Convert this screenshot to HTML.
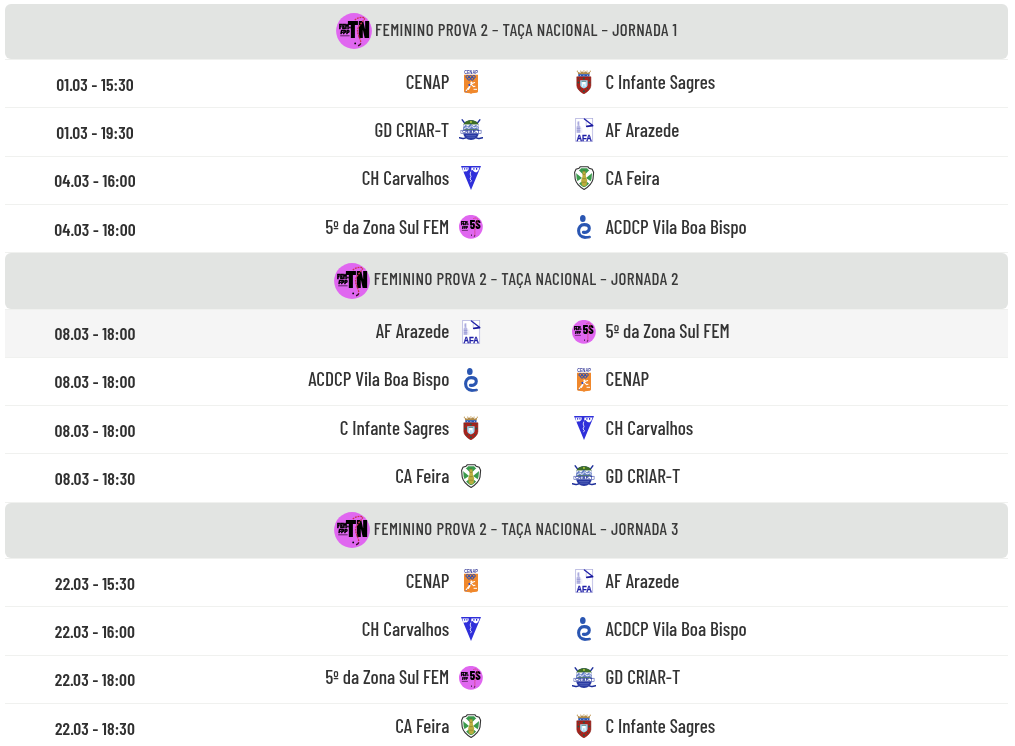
<!DOCTYPE html>
<html lang="pt"><head><meta charset="utf-8"><title>Taça Nacional Feminino</title>
<style>
html,body{margin:0;padding:0;background:#fff;width:1015px;height:746px;overflow:hidden;}
body{position:relative;font-family:'Barlow Condensed', 'Liberation Sans', sans-serif;color:#333333;}
.hd{position:absolute;left:5px;width:1003px;background:#e2e4e2;border-radius:6px;display:flex;align-items:center;justify-content:center;}
.hd svg{display:block;flex:none;margin-top:-1px;}
.hd span{font-size:17px;font-weight:500;letter-spacing:0.39px;color:#3a3a3a;white-space:nowrap;margin-left:3.5px;position:relative;top:-3px;}
.ln{position:absolute;left:5px;width:1003px;height:1px;background:#f0f1ef;}
.hv{position:absolute;left:5px;width:1003px;background:#f5f5f5;}
.t{position:absolute;white-space:nowrap;line-height:30px;height:30px;}
.dt{font-size:17.6px;font-weight:600;letter-spacing:0.12px;color:#303030;width:180px;text-align:center;}
.nm{font-size:19.2px;font-weight:500;letter-spacing:0px;}
.hm{text-align:right;width:300px;}
.lg{position:absolute;width:24px;height:24px;}
.lg svg{display:block;}
</style></head><body><div id="wrap" style="position:absolute;left:0;top:0;width:1015px;height:746px;will-change:transform">
<div class="hd" style="top:4px;height:55px"><svg width="36" height="36" viewBox="0 0 36 36">
<circle cx="18" cy="18" r="17.9" fill="#e067f0"/>
<text x="3" y="15.6" font-family="Barlow Condensed, Liberation Sans, sans-serif" font-weight="900" font-size="8.2" fill="#000" stroke="#000" stroke-width=".4" textLength="10" lengthAdjust="spacingAndGlyphs">FEM</text>
<rect x="13.2" y="13.7" width="1.5" height="1.7" fill="#000"/>
<text x="4.4" y="20.8" font-family="Barlow Condensed, Liberation Sans, sans-serif" font-weight="900" font-style="italic" font-size="5" fill="#000" stroke="#000" stroke-width=".3" textLength="8.8" lengthAdjust="spacingAndGlyphs">FPP</text>
<rect x="4.2" y="22.3" width="9.4" height="1" fill="#2a0a30" opacity=".7"/>
<text x="11.4" y="25.1" font-family="Barlow Condensed, Liberation Sans, sans-serif" font-weight="900" font-size="23.7" fill="#000" textLength="22.3" lengthAdjust="spacingAndGlyphs">TN</text>
<g stroke="#cc3450" stroke-width="1.3" fill="none" stroke-dasharray="1.8 .9">
<path d="M18.8 7C21 5 25 3.6 28.2 4.6"/>
<path d="M28.8 5.4C27.4 8 23.4 12 21.8 15.6 21 19 22.4 22 23.6 25 24.6 27.5 25 29.5 24.4 30.8"/>
</g>
<path d="M24.8 30.4Q24 32.4 22 32.7" stroke="#3a0a28" stroke-width="1.4" fill="none"/>
<circle cx="19.2" cy="30.4" r=".9" fill="#000"/>
</svg><span>FEMININO PROVA 2 – TAÇA NACIONAL – JORNADA 1</span></div>
<div class="ln" style="top:59px"></div>
<div class="ln" style="top:107px"></div>
<div class="ln" style="top:156px"></div>
<div class="ln" style="top:204px"></div>
<div class="ln" style="top:252px"></div>
<div class="t dt" style="left:5.0px;top:68.96px">01.03 - 15:30</div>
<div class="t nm hm" style="left:149.3px;top:67.32px">CENAP</div>
<div class="t nm" style="left:605.6px;top:67.32px">C Infante Sagres</div>
<div class="lg" style="left:459px;top:70px"><svg width="24" height="24" viewBox="0 0 24 24">
<text x="12" y="4.2" text-anchor="middle" font-family="Liberation Sans, sans-serif" font-weight="bold" font-size="4.6" fill="#3b3f9a" textLength="13.6" lengthAdjust="spacingAndGlyphs">CENAP</text>
<path d="M5 4.7h14v16.8q0 1.1-1.2 1.3l-4.8.5-1 .8-1-.8-4.8-.5Q5 22.6 5 21.5z" fill="#f0882c"/>
<g fill="none" stroke="#3050b0" stroke-width="1">
<circle cx="8.4" cy="6.9" r="1.45"/><circle cx="11.6" cy="6.9" r="1.45"/><circle cx="14.8" cy="6.9" r="1.45"/>
<circle cx="10" cy="8.7" r="1.45"/><circle cx="13.2" cy="8.7" r="1.45"/></g>
<path d="M7.2 20.8l2.6-3.6 2.2-3.2 3.6-1.4M12.2 14.4l2.4 2.2 1.4-.4M11 16.8l-1.6 2.6" stroke="#fff" stroke-width="1.1" fill="none" stroke-linecap="round"/>
<circle cx="12.4" cy="12.4" r="1" fill="#fff"/>
<path d="M9.2 14.6l1.6-.8.8 1.6-1.6.8z" fill="#2a4acc"/>
<path d="M14.6 19.3h3.4" stroke="#fff" stroke-width="1"/>
<path d="M6.4 21.6h1.4" stroke="#5a6ab0" stroke-width=".8"/>
</svg></div>
<div class="lg" style="left:572px;top:70px"><svg width="24" height="24" viewBox="0 0 24 24">
<g fill="#c8a466"><circle cx="5.4" cy="1.3" r=".7"/><circle cx="8.6" cy="1.1" r=".7"/><circle cx="11.9" cy="1" r=".7"/><circle cx="15.1" cy="1.1" r=".7"/><circle cx="18.3" cy="1.3" r=".7"/></g>
<path d="M6.2 4.4l-.6-2.6 2.6 1 1.8-1.6 1.9 1.2 1.9-1.2 1.8 1.6 2.6-1-.6 2.6z" fill="#b08a48"/>
<rect x="6.3" y="4.2" width="11.2" height="2.4" fill="#2456b8"/>
<g fill="#d8e4f4"><rect x="8" y="5" width=".8" height=".8"/><rect x="11.5" y="5" width=".8" height=".8"/><rect x="15" y="5" width=".8" height=".8"/></g>
<path d="M4.8 6.8h14.1v8.6q0 4.4-7.05 8.6Q4.8 19.8 4.8 15.4z" fill="#a8221c" stroke="#7a1812" stroke-width=".5"/>
<path d="M8.2 10.2h7.4v4.6q0 2.6-3.7 3.8-3.7-1.2-3.7-3.8z" fill="#a4d8f0"/>
<path d="M10.2 11.8h3.4v4.6h-1v-2.2h-1.4v2.2h-1z" fill="#fff"/>
<path d="M9.6 11.4h4.6" stroke="#2a6a5a" stroke-width=".6"/>
<g fill="#1f5a4c"><circle cx="11.9" cy="8.6" r="1"/><circle cx="6.4" cy="12.6" r="1"/><circle cx="17.4" cy="12.6" r="1"/><circle cx="11.9" cy="21.2" r="1"/><circle cx="8.2" cy="18.8" r=".7"/><circle cx="15.6" cy="18.8" r=".7"/><circle cx="6.6" cy="8.8" r=".6"/><circle cx="17.2" cy="8.8" r=".6"/></g>
</svg></div>
<div class="t dt" style="left:5.0px;top:116.96px">01.03 - 19:30</div>
<div class="t nm hm" style="left:149.3px;top:115.32px">GD CRIAR-T</div>
<div class="t nm" style="left:605.6px;top:115.32px">AF Arazede</div>
<div class="lg" style="left:459px;top:118px"><svg width="24" height="24" viewBox="0 0 24 24">
<g stroke="#1e2f9a" stroke-width="1.5" fill="none" stroke-linecap="round">
<path d="M3.2 1.9L15.6 18.4q1.8 2.4 4.6 2l3.4-.7"/><path d="M20.8 1.9L8.4 18.4q-1.8 2.4-4.6 2l-3.4-.7"/></g>
<path d="M4.2 8.6C4.2 4.4 7.8 2.2 12 2.2S19.8 4.4 19.8 8.6V14.2C19.8 19 16 21.9 12 21.9S4.2 19 4.2 14.2Z" fill="#2a3aa2"/>
<path d="M4.3 7.2C5 3.8 8.2 2.2 12 2.2S19 3.8 19.7 7.2Z" fill="#3d6e28"/>
<rect x="4.3" y="6.4" width="15.4" height="5.9" fill="#eef1fa"/>
<path d="M4.3 12.3V9.4l2.4-2.6 2.2 2 2.8-3.2 3 2.8 2.2-1.6 2.8 2.6v2.9z" fill="#3a5ab4" opacity=".75"/>
<path d="M5 11.2l2.6-2 2.4 1.2 2.6-2.4 2.4 2 2.4-1 2 1.6" stroke="#fff" stroke-width=".9" fill="none"/>
<path d="M5.4 11.8h13.2" stroke="#4a7a30" stroke-width=".8"/>
<rect x="11.1" y="3.1" width="1.7" height="1.7" fill="#b8d040"/>
<rect x="1.9" y="12.2" width="20.2" height="3.3" fill="#fff" stroke="#2a3aa2" stroke-width=".5"/>
<text x="12" y="15.1" text-anchor="middle" font-family="Liberation Sans, sans-serif" font-weight="bold" font-size="3.6" fill="#1e2f9a" textLength="17.4" lengthAdjust="spacingAndGlyphs">CRIAR-T</text>
<path d="M7 17.6h10M8.2 19.2h7.6" stroke="#6a7ac8" stroke-width=".6"/>
</svg></div>
<div class="lg" style="left:572px;top:118px"><svg width="24" height="24" viewBox="0 0 24 24">
<rect x="3.7" y="0.5" width="17" height="23" fill="#fff" stroke="#a8a8da" stroke-width=".7"/>
<path d="M4.6 15V8.4l1-1V3.2h1.8v4.2l1 1V15z" fill="#babae4"/>
<path d="M4.8 10.4h3.6M4.8 12.8h3.6" stroke="#9494d2" stroke-width=".8"/>
<path d="M6.1 4.2v2.4" stroke="#8c8cd0" stroke-width=".6"/>
<path d="M14.2 1.4V8.2" stroke="#b8b8e4" stroke-width=".7"/>
<path d="M12.4 .9L20.4 7.3" stroke="#2222a8" stroke-width="1.3" stroke-linecap="round"/>
<path d="M14.8 8.3L20.6 7.6" stroke="#1a1a9e" stroke-width="1.7" stroke-linecap="round"/>
<path d="M9.8 9.6V15M20.3 9.4V16" stroke="#d0d0ee" stroke-width=".5"/>
<text x="12.2" y="22.6" text-anchor="middle" font-family="Liberation Sans, sans-serif" font-weight="bold" font-size="8.6" fill="#1f1fa6" stroke="#1f1fa6" stroke-width=".3" textLength="15.4" lengthAdjust="spacingAndGlyphs">AFA</text>
</svg></div>
<div class="t dt" style="left:5.0px;top:164.96px">04.03 - 16:00</div>
<div class="t nm hm" style="left:149.3px;top:163.32px">CH Carvalhos</div>
<div class="t nm" style="left:605.6px;top:163.32px">CA Feira</div>
<div class="lg" style="left:459px;top:166px"><svg width="24" height="24" viewBox="0 0 24 24">
<path d="M2 0h20L12 24z" fill="#2f2fda"/>
<path d="M3.4 1.4h6.4l-.4 2.6-2 1.6-1.6-.4-1.2 1.4z" fill="#fff"/>
<path d="M12.4 1.4h8.2l-1.4 3.6-2 1.4-2-.6-1.6-1.8-1.4.6z" fill="#fff"/>
<g fill="#2f2fda"><rect x="5" y="2.2" width="1.2" height="1.4"/><rect x="7.4" y="2" width="1" height="1.6"/><rect x="14.2" y="2.2" width="1.4" height="1.4"/><rect x="17" y="2" width="1.2" height="1.8"/></g>
<path d="M11.8 5.6l-.6 2.4.8 2.6-1 2.4 1.4 1.4-.8 1.8" stroke="#fff" stroke-width=".8" fill="none"/>
</svg></div>
<div class="lg" style="left:572px;top:166px"><svg width="24" height="24" viewBox="0 0 24 24">
<defs><clipPath id="clip3a"><path d="M8.2 .8h7.8l1.2 1.6 3 .9 1.4 3-.6 6.8q-1.4 6-8.9 10.3Q4.6 19.1 3.2 13.1l-.6-6.8 1.4-3 3-.9z"/></clipPath></defs>
<path d="M8.2 .8h7.8l1.2 1.6 3 .9 1.4 3-.6 6.8q-1.4 6-8.9 10.3Q4.6 19.1 3.2 13.1l-.6-6.8 1.4-3 3-.9z" fill="#fff"/>
<g clip-path="url(#clip3a)" fill="#3a9a4c">
<path d="M4.4 1.8h15.2L12 9.6z"/>
<path d="M2 5.6L10 12 2 17.6z"/>
<path d="M22 5.6L14 12l8 5.6z"/>
<path d="M12.1 13.4l8 6.6-8 5-8-5z"/>
</g>
<path d="M8.2 .8h7.8l1.2 1.6 3 .9 1.4 3-.6 6.8q-1.4 6-8.9 10.3Q4.6 19.1 3.2 13.1l-.6-6.8 1.4-3 3-.9z" fill="none" stroke="#fff" stroke-width="3"/>
<path d="M8.2 .8h7.8l1.2 1.6 3 .9 1.4 3-.6 6.8q-1.4 6-8.9 10.3Q4.6 19.1 3.2 13.1l-.6-6.8 1.4-3 3-.9z" fill="none" stroke="#333" stroke-width="1.1"/>
<path d="M10.6 5.2h2.8l.6 5.6 1.2 3.4-.6 5-2.4 1.4-2.4-1.4-.6-5 1.2-3.4z" fill="#bcae3e"/>
<path d="M10.8 8.4h2.6M10.4 12.6h3.4M10 16.2h4.2" stroke="#7a6a28" stroke-width=".5"/>
<path d="M11.4 5.6l.6-1.2.6 1.2" stroke="#6a5a20" stroke-width=".5" fill="none"/>
</svg></div>
<div class="t dt" style="left:5.0px;top:213.96px">04.03 - 18:00</div>
<div class="t nm hm" style="left:149.3px;top:212.32px">5º da Zona Sul FEM</div>
<div class="t nm" style="left:605.6px;top:212.32px">ACDCP Vila Boa Bispo</div>
<div class="lg" style="left:459px;top:215px"><svg width="24" height="24" viewBox="0 0 24 24">
<circle cx="11.9" cy="11.8" r="11.9" fill="#e067f0"/>

<text x="1.9" y="9.8" font-family="Barlow Condensed, Liberation Sans, sans-serif" font-weight="900" font-size="5.4" fill="#000" stroke="#000" stroke-width=".25" textLength="6.6" lengthAdjust="spacingAndGlyphs">FEM</text>
<rect x="8.6" y="8.6" width="1" height="1.1" fill="#000"/>
<text x="2.9" y="13.6" font-family="Barlow Condensed, Liberation Sans, sans-serif" font-weight="900" font-style="italic" font-size="3.4" fill="#000" stroke="#000" stroke-width=".2" textLength="5.9" lengthAdjust="spacingAndGlyphs">FPP</text>
<rect x="2.9" y="14.9" width="6" height=".8" fill="#3a1040" opacity=".8"/>
<text x="10.8" y="13.9" font-family="Barlow Condensed, Liberation Sans, sans-serif" font-weight="800" font-size="13" fill="#000" textLength="10.9" lengthAdjust="spacingAndGlyphs">5S</text>
<path d="M14.4 3.6q2.4-1.2 4 .2.6 1.4-.6 4.2l-1.6 4.2-.4 4q.4 3-.6 5" stroke="#cc3450" stroke-width=".8" fill="none" stroke-dasharray="1.2 .6"/>
<circle cx="12.5" cy="20.1" r=".55" fill="#000"/>
<path d="M15.9 20.4q-.2 1-1 1.2" stroke="#1a0820" stroke-width=".9" fill="none"/>
</svg></div>
<div class="lg" style="left:572px;top:215px"><svg width="24" height="24" viewBox="0 0 24 24">
<ellipse cx="10.8" cy="3.5" rx="2.8" ry="3.5" fill="#2a56b2"/>
<path d="M11.4 17.2C14.2 17.8 17.4 16.4 17.3 13.2 17.2 10.6 14.8 9.6 12.2 9.6 8.6 9.6 6.6 12.4 6.6 15.8 6.6 19.6 9.4 22.2 12.8 22.2" stroke="#2a56b2" stroke-width="3.1" fill="none" stroke-linecap="round"/>
<path d="M12.4 22.3C14.4 22.5 16 22.4 17.6 22" stroke="#2a56b2" stroke-width="2.6" fill="none" stroke-linecap="round"/>
<path d="M16.8 23.2l1.2-.3" stroke="#f0a060" stroke-width=".8" opacity=".6"/>
</svg></div>
<div class="hd" style="top:253px;height:56px"><svg width="36" height="36" viewBox="0 0 36 36">
<circle cx="18" cy="18" r="17.9" fill="#e067f0"/>
<text x="3" y="15.6" font-family="Barlow Condensed, Liberation Sans, sans-serif" font-weight="900" font-size="8.2" fill="#000" stroke="#000" stroke-width=".4" textLength="10" lengthAdjust="spacingAndGlyphs">FEM</text>
<rect x="13.2" y="13.7" width="1.5" height="1.7" fill="#000"/>
<text x="4.4" y="20.8" font-family="Barlow Condensed, Liberation Sans, sans-serif" font-weight="900" font-style="italic" font-size="5" fill="#000" stroke="#000" stroke-width=".3" textLength="8.8" lengthAdjust="spacingAndGlyphs">FPP</text>
<rect x="4.2" y="22.3" width="9.4" height="1" fill="#2a0a30" opacity=".7"/>
<text x="11.4" y="25.1" font-family="Barlow Condensed, Liberation Sans, sans-serif" font-weight="900" font-size="23.7" fill="#000" textLength="22.3" lengthAdjust="spacingAndGlyphs">TN</text>
<g stroke="#cc3450" stroke-width="1.3" fill="none" stroke-dasharray="1.8 .9">
<path d="M18.8 7C21 5 25 3.6 28.2 4.6"/>
<path d="M28.8 5.4C27.4 8 23.4 12 21.8 15.6 21 19 22.4 22 23.6 25 24.6 27.5 25 29.5 24.4 30.8"/>
</g>
<path d="M24.8 30.4Q24 32.4 22 32.7" stroke="#3a0a28" stroke-width="1.4" fill="none"/>
<circle cx="19.2" cy="30.4" r=".9" fill="#000"/>
</svg><span>FEMININO PROVA 2 – TAÇA NACIONAL – JORNADA 2</span></div>
<div class="ln" style="top:309px"></div>
<div class="ln" style="top:357px"></div>
<div class="ln" style="top:405px"></div>
<div class="ln" style="top:453px"></div>
<div class="ln" style="top:502px"></div>
<div class="hv" style="top:310px;height:47px"></div>
<div class="t dt" style="left:5.0px;top:317.96px">08.03 - 18:00</div>
<div class="t nm hm" style="left:149.3px;top:316.32px">AF Arazede</div>
<div class="t nm" style="left:605.6px;top:316.32px">5º da Zona Sul FEM</div>
<div class="lg" style="left:459px;top:320px"><svg width="24" height="24" viewBox="0 0 24 24">
<rect x="3.7" y="0.5" width="17" height="23" fill="#fff" stroke="#a8a8da" stroke-width=".7"/>
<path d="M4.6 15V8.4l1-1V3.2h1.8v4.2l1 1V15z" fill="#babae4"/>
<path d="M4.8 10.4h3.6M4.8 12.8h3.6" stroke="#9494d2" stroke-width=".8"/>
<path d="M6.1 4.2v2.4" stroke="#8c8cd0" stroke-width=".6"/>
<path d="M14.2 1.4V8.2" stroke="#b8b8e4" stroke-width=".7"/>
<path d="M12.4 .9L20.4 7.3" stroke="#2222a8" stroke-width="1.3" stroke-linecap="round"/>
<path d="M14.8 8.3L20.6 7.6" stroke="#1a1a9e" stroke-width="1.7" stroke-linecap="round"/>
<path d="M9.8 9.6V15M20.3 9.4V16" stroke="#d0d0ee" stroke-width=".5"/>
<text x="12.2" y="22.6" text-anchor="middle" font-family="Liberation Sans, sans-serif" font-weight="bold" font-size="8.6" fill="#1f1fa6" stroke="#1f1fa6" stroke-width=".3" textLength="15.4" lengthAdjust="spacingAndGlyphs">AFA</text>
</svg></div>
<div class="lg" style="left:572px;top:320px"><svg width="24" height="24" viewBox="0 0 24 24">
<circle cx="11.9" cy="11.8" r="11.9" fill="#e067f0"/>

<text x="1.9" y="9.8" font-family="Barlow Condensed, Liberation Sans, sans-serif" font-weight="900" font-size="5.4" fill="#000" stroke="#000" stroke-width=".25" textLength="6.6" lengthAdjust="spacingAndGlyphs">FEM</text>
<rect x="8.6" y="8.6" width="1" height="1.1" fill="#000"/>
<text x="2.9" y="13.6" font-family="Barlow Condensed, Liberation Sans, sans-serif" font-weight="900" font-style="italic" font-size="3.4" fill="#000" stroke="#000" stroke-width=".2" textLength="5.9" lengthAdjust="spacingAndGlyphs">FPP</text>
<rect x="2.9" y="14.9" width="6" height=".8" fill="#3a1040" opacity=".8"/>
<text x="10.8" y="13.9" font-family="Barlow Condensed, Liberation Sans, sans-serif" font-weight="800" font-size="13" fill="#000" textLength="10.9" lengthAdjust="spacingAndGlyphs">5S</text>
<path d="M14.4 3.6q2.4-1.2 4 .2.6 1.4-.6 4.2l-1.6 4.2-.4 4q.4 3-.6 5" stroke="#cc3450" stroke-width=".8" fill="none" stroke-dasharray="1.2 .6"/>
<circle cx="12.5" cy="20.1" r=".55" fill="#000"/>
<path d="M15.9 20.4q-.2 1-1 1.2" stroke="#1a0820" stroke-width=".9" fill="none"/>
</svg></div>
<div class="t dt" style="left:5.0px;top:365.96px">08.03 - 18:00</div>
<div class="t nm hm" style="left:149.3px;top:364.32px">ACDCP Vila Boa Bispo</div>
<div class="t nm" style="left:605.6px;top:364.32px">CENAP</div>
<div class="lg" style="left:459px;top:368px"><svg width="24" height="24" viewBox="0 0 24 24">
<ellipse cx="10.8" cy="3.5" rx="2.8" ry="3.5" fill="#2a56b2"/>
<path d="M11.4 17.2C14.2 17.8 17.4 16.4 17.3 13.2 17.2 10.6 14.8 9.6 12.2 9.6 8.6 9.6 6.6 12.4 6.6 15.8 6.6 19.6 9.4 22.2 12.8 22.2" stroke="#2a56b2" stroke-width="3.1" fill="none" stroke-linecap="round"/>
<path d="M12.4 22.3C14.4 22.5 16 22.4 17.6 22" stroke="#2a56b2" stroke-width="2.6" fill="none" stroke-linecap="round"/>
<path d="M16.8 23.2l1.2-.3" stroke="#f0a060" stroke-width=".8" opacity=".6"/>
</svg></div>
<div class="lg" style="left:572px;top:368px"><svg width="24" height="24" viewBox="0 0 24 24">
<text x="12" y="4.2" text-anchor="middle" font-family="Liberation Sans, sans-serif" font-weight="bold" font-size="4.6" fill="#3b3f9a" textLength="13.6" lengthAdjust="spacingAndGlyphs">CENAP</text>
<path d="M5 4.7h14v16.8q0 1.1-1.2 1.3l-4.8.5-1 .8-1-.8-4.8-.5Q5 22.6 5 21.5z" fill="#f0882c"/>
<g fill="none" stroke="#3050b0" stroke-width="1">
<circle cx="8.4" cy="6.9" r="1.45"/><circle cx="11.6" cy="6.9" r="1.45"/><circle cx="14.8" cy="6.9" r="1.45"/>
<circle cx="10" cy="8.7" r="1.45"/><circle cx="13.2" cy="8.7" r="1.45"/></g>
<path d="M7.2 20.8l2.6-3.6 2.2-3.2 3.6-1.4M12.2 14.4l2.4 2.2 1.4-.4M11 16.8l-1.6 2.6" stroke="#fff" stroke-width="1.1" fill="none" stroke-linecap="round"/>
<circle cx="12.4" cy="12.4" r="1" fill="#fff"/>
<path d="M9.2 14.6l1.6-.8.8 1.6-1.6.8z" fill="#2a4acc"/>
<path d="M14.6 19.3h3.4" stroke="#fff" stroke-width="1"/>
<path d="M6.4 21.6h1.4" stroke="#5a6ab0" stroke-width=".8"/>
</svg></div>
<div class="t dt" style="left:5.0px;top:414.96px">08.03 - 18:00</div>
<div class="t nm hm" style="left:149.3px;top:413.32px">C Infante Sagres</div>
<div class="t nm" style="left:605.6px;top:413.32px">CH Carvalhos</div>
<div class="lg" style="left:459px;top:416px"><svg width="24" height="24" viewBox="0 0 24 24">
<g fill="#c8a466"><circle cx="5.4" cy="1.3" r=".7"/><circle cx="8.6" cy="1.1" r=".7"/><circle cx="11.9" cy="1" r=".7"/><circle cx="15.1" cy="1.1" r=".7"/><circle cx="18.3" cy="1.3" r=".7"/></g>
<path d="M6.2 4.4l-.6-2.6 2.6 1 1.8-1.6 1.9 1.2 1.9-1.2 1.8 1.6 2.6-1-.6 2.6z" fill="#b08a48"/>
<rect x="6.3" y="4.2" width="11.2" height="2.4" fill="#2456b8"/>
<g fill="#d8e4f4"><rect x="8" y="5" width=".8" height=".8"/><rect x="11.5" y="5" width=".8" height=".8"/><rect x="15" y="5" width=".8" height=".8"/></g>
<path d="M4.8 6.8h14.1v8.6q0 4.4-7.05 8.6Q4.8 19.8 4.8 15.4z" fill="#a8221c" stroke="#7a1812" stroke-width=".5"/>
<path d="M8.2 10.2h7.4v4.6q0 2.6-3.7 3.8-3.7-1.2-3.7-3.8z" fill="#a4d8f0"/>
<path d="M10.2 11.8h3.4v4.6h-1v-2.2h-1.4v2.2h-1z" fill="#fff"/>
<path d="M9.6 11.4h4.6" stroke="#2a6a5a" stroke-width=".6"/>
<g fill="#1f5a4c"><circle cx="11.9" cy="8.6" r="1"/><circle cx="6.4" cy="12.6" r="1"/><circle cx="17.4" cy="12.6" r="1"/><circle cx="11.9" cy="21.2" r="1"/><circle cx="8.2" cy="18.8" r=".7"/><circle cx="15.6" cy="18.8" r=".7"/><circle cx="6.6" cy="8.8" r=".6"/><circle cx="17.2" cy="8.8" r=".6"/></g>
</svg></div>
<div class="lg" style="left:572px;top:416px"><svg width="24" height="24" viewBox="0 0 24 24">
<path d="M2 0h20L12 24z" fill="#2f2fda"/>
<path d="M3.4 1.4h6.4l-.4 2.6-2 1.6-1.6-.4-1.2 1.4z" fill="#fff"/>
<path d="M12.4 1.4h8.2l-1.4 3.6-2 1.4-2-.6-1.6-1.8-1.4.6z" fill="#fff"/>
<g fill="#2f2fda"><rect x="5" y="2.2" width="1.2" height="1.4"/><rect x="7.4" y="2" width="1" height="1.6"/><rect x="14.2" y="2.2" width="1.4" height="1.4"/><rect x="17" y="2" width="1.2" height="1.8"/></g>
<path d="M11.8 5.6l-.6 2.4.8 2.6-1 2.4 1.4 1.4-.8 1.8" stroke="#fff" stroke-width=".8" fill="none"/>
</svg></div>
<div class="t dt" style="left:5.0px;top:462.96px">08.03 - 18:30</div>
<div class="t nm hm" style="left:149.3px;top:461.32px">CA Feira</div>
<div class="t nm" style="left:605.6px;top:461.32px">GD CRIAR-T</div>
<div class="lg" style="left:459px;top:464px"><svg width="24" height="24" viewBox="0 0 24 24">
<defs><clipPath id="clip8h"><path d="M8.2 .8h7.8l1.2 1.6 3 .9 1.4 3-.6 6.8q-1.4 6-8.9 10.3Q4.6 19.1 3.2 13.1l-.6-6.8 1.4-3 3-.9z"/></clipPath></defs>
<path d="M8.2 .8h7.8l1.2 1.6 3 .9 1.4 3-.6 6.8q-1.4 6-8.9 10.3Q4.6 19.1 3.2 13.1l-.6-6.8 1.4-3 3-.9z" fill="#fff"/>
<g clip-path="url(#clip8h)" fill="#3a9a4c">
<path d="M4.4 1.8h15.2L12 9.6z"/>
<path d="M2 5.6L10 12 2 17.6z"/>
<path d="M22 5.6L14 12l8 5.6z"/>
<path d="M12.1 13.4l8 6.6-8 5-8-5z"/>
</g>
<path d="M8.2 .8h7.8l1.2 1.6 3 .9 1.4 3-.6 6.8q-1.4 6-8.9 10.3Q4.6 19.1 3.2 13.1l-.6-6.8 1.4-3 3-.9z" fill="none" stroke="#fff" stroke-width="3"/>
<path d="M8.2 .8h7.8l1.2 1.6 3 .9 1.4 3-.6 6.8q-1.4 6-8.9 10.3Q4.6 19.1 3.2 13.1l-.6-6.8 1.4-3 3-.9z" fill="none" stroke="#333" stroke-width="1.1"/>
<path d="M10.6 5.2h2.8l.6 5.6 1.2 3.4-.6 5-2.4 1.4-2.4-1.4-.6-5 1.2-3.4z" fill="#bcae3e"/>
<path d="M10.8 8.4h2.6M10.4 12.6h3.4M10 16.2h4.2" stroke="#7a6a28" stroke-width=".5"/>
<path d="M11.4 5.6l.6-1.2.6 1.2" stroke="#6a5a20" stroke-width=".5" fill="none"/>
</svg></div>
<div class="lg" style="left:572px;top:464px"><svg width="24" height="24" viewBox="0 0 24 24">
<g stroke="#1e2f9a" stroke-width="1.5" fill="none" stroke-linecap="round">
<path d="M3.2 1.9L15.6 18.4q1.8 2.4 4.6 2l3.4-.7"/><path d="M20.8 1.9L8.4 18.4q-1.8 2.4-4.6 2l-3.4-.7"/></g>
<path d="M4.2 8.6C4.2 4.4 7.8 2.2 12 2.2S19.8 4.4 19.8 8.6V14.2C19.8 19 16 21.9 12 21.9S4.2 19 4.2 14.2Z" fill="#2a3aa2"/>
<path d="M4.3 7.2C5 3.8 8.2 2.2 12 2.2S19 3.8 19.7 7.2Z" fill="#3d6e28"/>
<rect x="4.3" y="6.4" width="15.4" height="5.9" fill="#eef1fa"/>
<path d="M4.3 12.3V9.4l2.4-2.6 2.2 2 2.8-3.2 3 2.8 2.2-1.6 2.8 2.6v2.9z" fill="#3a5ab4" opacity=".75"/>
<path d="M5 11.2l2.6-2 2.4 1.2 2.6-2.4 2.4 2 2.4-1 2 1.6" stroke="#fff" stroke-width=".9" fill="none"/>
<path d="M5.4 11.8h13.2" stroke="#4a7a30" stroke-width=".8"/>
<rect x="11.1" y="3.1" width="1.7" height="1.7" fill="#b8d040"/>
<rect x="1.9" y="12.2" width="20.2" height="3.3" fill="#fff" stroke="#2a3aa2" stroke-width=".5"/>
<text x="12" y="15.1" text-anchor="middle" font-family="Liberation Sans, sans-serif" font-weight="bold" font-size="3.6" fill="#1e2f9a" textLength="17.4" lengthAdjust="spacingAndGlyphs">CRIAR-T</text>
<path d="M7 17.6h10M8.2 19.2h7.6" stroke="#6a7ac8" stroke-width=".6"/>
</svg></div>
<div class="hd" style="top:503px;height:55px"><svg width="36" height="36" viewBox="0 0 36 36">
<circle cx="18" cy="18" r="17.9" fill="#e067f0"/>
<text x="3" y="15.6" font-family="Barlow Condensed, Liberation Sans, sans-serif" font-weight="900" font-size="8.2" fill="#000" stroke="#000" stroke-width=".4" textLength="10" lengthAdjust="spacingAndGlyphs">FEM</text>
<rect x="13.2" y="13.7" width="1.5" height="1.7" fill="#000"/>
<text x="4.4" y="20.8" font-family="Barlow Condensed, Liberation Sans, sans-serif" font-weight="900" font-style="italic" font-size="5" fill="#000" stroke="#000" stroke-width=".3" textLength="8.8" lengthAdjust="spacingAndGlyphs">FPP</text>
<rect x="4.2" y="22.3" width="9.4" height="1" fill="#2a0a30" opacity=".7"/>
<text x="11.4" y="25.1" font-family="Barlow Condensed, Liberation Sans, sans-serif" font-weight="900" font-size="23.7" fill="#000" textLength="22.3" lengthAdjust="spacingAndGlyphs">TN</text>
<g stroke="#cc3450" stroke-width="1.3" fill="none" stroke-dasharray="1.8 .9">
<path d="M18.8 7C21 5 25 3.6 28.2 4.6"/>
<path d="M28.8 5.4C27.4 8 23.4 12 21.8 15.6 21 19 22.4 22 23.6 25 24.6 27.5 25 29.5 24.4 30.8"/>
</g>
<path d="M24.8 30.4Q24 32.4 22 32.7" stroke="#3a0a28" stroke-width="1.4" fill="none"/>
<circle cx="19.2" cy="30.4" r=".9" fill="#000"/>
</svg><span>FEMININO PROVA 2 – TAÇA NACIONAL – JORNADA 3</span></div>
<div class="ln" style="top:558px"></div>
<div class="ln" style="top:606px"></div>
<div class="ln" style="top:655px"></div>
<div class="ln" style="top:703px"></div>
<div class="t dt" style="left:5.0px;top:567.96px">22.03 - 15:30</div>
<div class="t nm hm" style="left:149.3px;top:566.32px">CENAP</div>
<div class="t nm" style="left:605.6px;top:566.32px">AF Arazede</div>
<div class="lg" style="left:459px;top:569px"><svg width="24" height="24" viewBox="0 0 24 24">
<text x="12" y="4.2" text-anchor="middle" font-family="Liberation Sans, sans-serif" font-weight="bold" font-size="4.6" fill="#3b3f9a" textLength="13.6" lengthAdjust="spacingAndGlyphs">CENAP</text>
<path d="M5 4.7h14v16.8q0 1.1-1.2 1.3l-4.8.5-1 .8-1-.8-4.8-.5Q5 22.6 5 21.5z" fill="#f0882c"/>
<g fill="none" stroke="#3050b0" stroke-width="1">
<circle cx="8.4" cy="6.9" r="1.45"/><circle cx="11.6" cy="6.9" r="1.45"/><circle cx="14.8" cy="6.9" r="1.45"/>
<circle cx="10" cy="8.7" r="1.45"/><circle cx="13.2" cy="8.7" r="1.45"/></g>
<path d="M7.2 20.8l2.6-3.6 2.2-3.2 3.6-1.4M12.2 14.4l2.4 2.2 1.4-.4M11 16.8l-1.6 2.6" stroke="#fff" stroke-width="1.1" fill="none" stroke-linecap="round"/>
<circle cx="12.4" cy="12.4" r="1" fill="#fff"/>
<path d="M9.2 14.6l1.6-.8.8 1.6-1.6.8z" fill="#2a4acc"/>
<path d="M14.6 19.3h3.4" stroke="#fff" stroke-width="1"/>
<path d="M6.4 21.6h1.4" stroke="#5a6ab0" stroke-width=".8"/>
</svg></div>
<div class="lg" style="left:572px;top:569px"><svg width="24" height="24" viewBox="0 0 24 24">
<rect x="3.7" y="0.5" width="17" height="23" fill="#fff" stroke="#a8a8da" stroke-width=".7"/>
<path d="M4.6 15V8.4l1-1V3.2h1.8v4.2l1 1V15z" fill="#babae4"/>
<path d="M4.8 10.4h3.6M4.8 12.8h3.6" stroke="#9494d2" stroke-width=".8"/>
<path d="M6.1 4.2v2.4" stroke="#8c8cd0" stroke-width=".6"/>
<path d="M14.2 1.4V8.2" stroke="#b8b8e4" stroke-width=".7"/>
<path d="M12.4 .9L20.4 7.3" stroke="#2222a8" stroke-width="1.3" stroke-linecap="round"/>
<path d="M14.8 8.3L20.6 7.6" stroke="#1a1a9e" stroke-width="1.7" stroke-linecap="round"/>
<path d="M9.8 9.6V15M20.3 9.4V16" stroke="#d0d0ee" stroke-width=".5"/>
<text x="12.2" y="22.6" text-anchor="middle" font-family="Liberation Sans, sans-serif" font-weight="bold" font-size="8.6" fill="#1f1fa6" stroke="#1f1fa6" stroke-width=".3" textLength="15.4" lengthAdjust="spacingAndGlyphs">AFA</text>
</svg></div>
<div class="t dt" style="left:5.0px;top:615.96px">22.03 - 16:00</div>
<div class="t nm hm" style="left:149.3px;top:614.32px">CH Carvalhos</div>
<div class="t nm" style="left:605.6px;top:614.32px">ACDCP Vila Boa Bispo</div>
<div class="lg" style="left:459px;top:617px"><svg width="24" height="24" viewBox="0 0 24 24">
<path d="M2 0h20L12 24z" fill="#2f2fda"/>
<path d="M3.4 1.4h6.4l-.4 2.6-2 1.6-1.6-.4-1.2 1.4z" fill="#fff"/>
<path d="M12.4 1.4h8.2l-1.4 3.6-2 1.4-2-.6-1.6-1.8-1.4.6z" fill="#fff"/>
<g fill="#2f2fda"><rect x="5" y="2.2" width="1.2" height="1.4"/><rect x="7.4" y="2" width="1" height="1.6"/><rect x="14.2" y="2.2" width="1.4" height="1.4"/><rect x="17" y="2" width="1.2" height="1.8"/></g>
<path d="M11.8 5.6l-.6 2.4.8 2.6-1 2.4 1.4 1.4-.8 1.8" stroke="#fff" stroke-width=".8" fill="none"/>
</svg></div>
<div class="lg" style="left:572px;top:617px"><svg width="24" height="24" viewBox="0 0 24 24">
<ellipse cx="10.8" cy="3.5" rx="2.8" ry="3.5" fill="#2a56b2"/>
<path d="M11.4 17.2C14.2 17.8 17.4 16.4 17.3 13.2 17.2 10.6 14.8 9.6 12.2 9.6 8.6 9.6 6.6 12.4 6.6 15.8 6.6 19.6 9.4 22.2 12.8 22.2" stroke="#2a56b2" stroke-width="3.1" fill="none" stroke-linecap="round"/>
<path d="M12.4 22.3C14.4 22.5 16 22.4 17.6 22" stroke="#2a56b2" stroke-width="2.6" fill="none" stroke-linecap="round"/>
<path d="M16.8 23.2l1.2-.3" stroke="#f0a060" stroke-width=".8" opacity=".6"/>
</svg></div>
<div class="t dt" style="left:5.0px;top:663.96px">22.03 - 18:00</div>
<div class="t nm hm" style="left:149.3px;top:662.32px">5º da Zona Sul FEM</div>
<div class="t nm" style="left:605.6px;top:662.32px">GD CRIAR-T</div>
<div class="lg" style="left:459px;top:666px"><svg width="24" height="24" viewBox="0 0 24 24">
<circle cx="11.9" cy="11.8" r="11.9" fill="#e067f0"/>

<text x="1.9" y="9.8" font-family="Barlow Condensed, Liberation Sans, sans-serif" font-weight="900" font-size="5.4" fill="#000" stroke="#000" stroke-width=".25" textLength="6.6" lengthAdjust="spacingAndGlyphs">FEM</text>
<rect x="8.6" y="8.6" width="1" height="1.1" fill="#000"/>
<text x="2.9" y="13.6" font-family="Barlow Condensed, Liberation Sans, sans-serif" font-weight="900" font-style="italic" font-size="3.4" fill="#000" stroke="#000" stroke-width=".2" textLength="5.9" lengthAdjust="spacingAndGlyphs">FPP</text>
<rect x="2.9" y="14.9" width="6" height=".8" fill="#3a1040" opacity=".8"/>
<text x="10.8" y="13.9" font-family="Barlow Condensed, Liberation Sans, sans-serif" font-weight="800" font-size="13" fill="#000" textLength="10.9" lengthAdjust="spacingAndGlyphs">5S</text>
<path d="M14.4 3.6q2.4-1.2 4 .2.6 1.4-.6 4.2l-1.6 4.2-.4 4q.4 3-.6 5" stroke="#cc3450" stroke-width=".8" fill="none" stroke-dasharray="1.2 .6"/>
<circle cx="12.5" cy="20.1" r=".55" fill="#000"/>
<path d="M15.9 20.4q-.2 1-1 1.2" stroke="#1a0820" stroke-width=".9" fill="none"/>
</svg></div>
<div class="lg" style="left:572px;top:666px"><svg width="24" height="24" viewBox="0 0 24 24">
<g stroke="#1e2f9a" stroke-width="1.5" fill="none" stroke-linecap="round">
<path d="M3.2 1.9L15.6 18.4q1.8 2.4 4.6 2l3.4-.7"/><path d="M20.8 1.9L8.4 18.4q-1.8 2.4-4.6 2l-3.4-.7"/></g>
<path d="M4.2 8.6C4.2 4.4 7.8 2.2 12 2.2S19.8 4.4 19.8 8.6V14.2C19.8 19 16 21.9 12 21.9S4.2 19 4.2 14.2Z" fill="#2a3aa2"/>
<path d="M4.3 7.2C5 3.8 8.2 2.2 12 2.2S19 3.8 19.7 7.2Z" fill="#3d6e28"/>
<rect x="4.3" y="6.4" width="15.4" height="5.9" fill="#eef1fa"/>
<path d="M4.3 12.3V9.4l2.4-2.6 2.2 2 2.8-3.2 3 2.8 2.2-1.6 2.8 2.6v2.9z" fill="#3a5ab4" opacity=".75"/>
<path d="M5 11.2l2.6-2 2.4 1.2 2.6-2.4 2.4 2 2.4-1 2 1.6" stroke="#fff" stroke-width=".9" fill="none"/>
<path d="M5.4 11.8h13.2" stroke="#4a7a30" stroke-width=".8"/>
<rect x="11.1" y="3.1" width="1.7" height="1.7" fill="#b8d040"/>
<rect x="1.9" y="12.2" width="20.2" height="3.3" fill="#fff" stroke="#2a3aa2" stroke-width=".5"/>
<text x="12" y="15.1" text-anchor="middle" font-family="Liberation Sans, sans-serif" font-weight="bold" font-size="3.6" fill="#1e2f9a" textLength="17.4" lengthAdjust="spacingAndGlyphs">CRIAR-T</text>
<path d="M7 17.6h10M8.2 19.2h7.6" stroke="#6a7ac8" stroke-width=".6"/>
</svg></div>
<div class="t dt" style="left:5.0px;top:712.96px">22.03 - 18:30</div>
<div class="t nm hm" style="left:149.3px;top:711.32px">CA Feira</div>
<div class="t nm" style="left:605.6px;top:711.32px">C Infante Sagres</div>
<div class="lg" style="left:459px;top:714px"><svg width="24" height="24" viewBox="0 0 24 24">
<defs><clipPath id="clip12h"><path d="M8.2 .8h7.8l1.2 1.6 3 .9 1.4 3-.6 6.8q-1.4 6-8.9 10.3Q4.6 19.1 3.2 13.1l-.6-6.8 1.4-3 3-.9z"/></clipPath></defs>
<path d="M8.2 .8h7.8l1.2 1.6 3 .9 1.4 3-.6 6.8q-1.4 6-8.9 10.3Q4.6 19.1 3.2 13.1l-.6-6.8 1.4-3 3-.9z" fill="#fff"/>
<g clip-path="url(#clip12h)" fill="#3a9a4c">
<path d="M4.4 1.8h15.2L12 9.6z"/>
<path d="M2 5.6L10 12 2 17.6z"/>
<path d="M22 5.6L14 12l8 5.6z"/>
<path d="M12.1 13.4l8 6.6-8 5-8-5z"/>
</g>
<path d="M8.2 .8h7.8l1.2 1.6 3 .9 1.4 3-.6 6.8q-1.4 6-8.9 10.3Q4.6 19.1 3.2 13.1l-.6-6.8 1.4-3 3-.9z" fill="none" stroke="#fff" stroke-width="3"/>
<path d="M8.2 .8h7.8l1.2 1.6 3 .9 1.4 3-.6 6.8q-1.4 6-8.9 10.3Q4.6 19.1 3.2 13.1l-.6-6.8 1.4-3 3-.9z" fill="none" stroke="#333" stroke-width="1.1"/>
<path d="M10.6 5.2h2.8l.6 5.6 1.2 3.4-.6 5-2.4 1.4-2.4-1.4-.6-5 1.2-3.4z" fill="#bcae3e"/>
<path d="M10.8 8.4h2.6M10.4 12.6h3.4M10 16.2h4.2" stroke="#7a6a28" stroke-width=".5"/>
<path d="M11.4 5.6l.6-1.2.6 1.2" stroke="#6a5a20" stroke-width=".5" fill="none"/>
</svg></div>
<div class="lg" style="left:572px;top:714px"><svg width="24" height="24" viewBox="0 0 24 24">
<g fill="#c8a466"><circle cx="5.4" cy="1.3" r=".7"/><circle cx="8.6" cy="1.1" r=".7"/><circle cx="11.9" cy="1" r=".7"/><circle cx="15.1" cy="1.1" r=".7"/><circle cx="18.3" cy="1.3" r=".7"/></g>
<path d="M6.2 4.4l-.6-2.6 2.6 1 1.8-1.6 1.9 1.2 1.9-1.2 1.8 1.6 2.6-1-.6 2.6z" fill="#b08a48"/>
<rect x="6.3" y="4.2" width="11.2" height="2.4" fill="#2456b8"/>
<g fill="#d8e4f4"><rect x="8" y="5" width=".8" height=".8"/><rect x="11.5" y="5" width=".8" height=".8"/><rect x="15" y="5" width=".8" height=".8"/></g>
<path d="M4.8 6.8h14.1v8.6q0 4.4-7.05 8.6Q4.8 19.8 4.8 15.4z" fill="#a8221c" stroke="#7a1812" stroke-width=".5"/>
<path d="M8.2 10.2h7.4v4.6q0 2.6-3.7 3.8-3.7-1.2-3.7-3.8z" fill="#a4d8f0"/>
<path d="M10.2 11.8h3.4v4.6h-1v-2.2h-1.4v2.2h-1z" fill="#fff"/>
<path d="M9.6 11.4h4.6" stroke="#2a6a5a" stroke-width=".6"/>
<g fill="#1f5a4c"><circle cx="11.9" cy="8.6" r="1"/><circle cx="6.4" cy="12.6" r="1"/><circle cx="17.4" cy="12.6" r="1"/><circle cx="11.9" cy="21.2" r="1"/><circle cx="8.2" cy="18.8" r=".7"/><circle cx="15.6" cy="18.8" r=".7"/><circle cx="6.6" cy="8.8" r=".6"/><circle cx="17.2" cy="8.8" r=".6"/></g>
</svg></div>
</div></body></html>
